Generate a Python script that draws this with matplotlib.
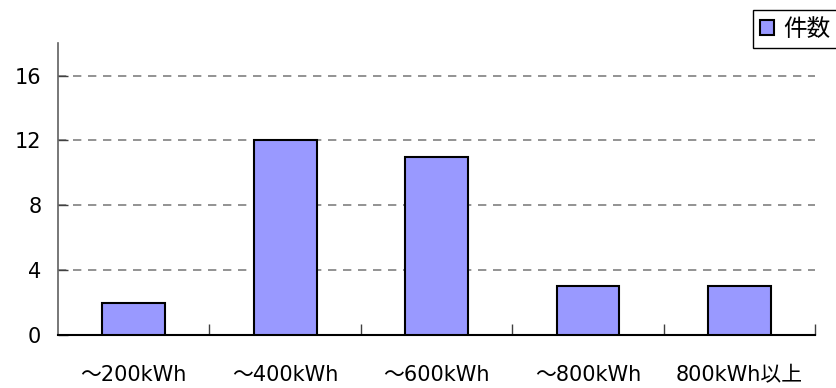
import matplotlib.pyplot as plt
from matplotlib.patches import Patch

plt.rcParams['font.family'] = ['DejaVu Sans', 'Noto Sans CJK JP']

# 使用量区分ごとの件数
categories = ['～200kWh', '～400kWh', '～600kWh', '～800kWh', '800kWh以上']
counts = [2, 12, 11, 3, 3]
yticks = [0, 4, 8, 12, 16]

fig = plt.figure(figsize=(8.36, 3.88), dpi=100)
ax = fig.add_axes([0.0694, 0.1366, 0.9056, 0.7524])

x = list(range(len(categories)))
ax.bar(x, counts, width=0.415, color='#9999FF', edgecolor='black', linewidth=1.5, zorder=3)

ax.set_xlim(-0.5, len(categories) - 0.5)
ax.set_ylim(0, 18)

# 目盛り線（破線）
for v in yticks[1:]:
    ax.axhline(v, color='#808080', linestyle=(0, (5, 4)), linewidth=1.2, zorder=1)

ax.set_yticks(yticks)
ax.tick_params(axis='y', direction='in', length=7, width=1, color='#404040',
               labelsize=15, pad=12)

# カテゴリ境界の目盛り
ax.set_xticks(x)
ax.set_xticklabels(categories)
ax.tick_params(axis='x', which='major', length=0, labelsize=15, pad=33)
for lbl in ax.get_xticklabels():
    lbl.set_verticalalignment('baseline')
ax.set_xticks([i + 0.5 for i in x], minor=True)
ax.tick_params(axis='x', which='minor', direction='in', length=8, width=1, color='#404040')

for s in ['top', 'right']:
    ax.spines[s].set_visible(False)
ax.spines['left'].set_color('#606060')
ax.spines['left'].set_linewidth(1.2)
ax.spines['bottom'].set_color('black')
ax.spines['bottom'].set_linewidth(1.5)

handle = Patch(facecolor='#9999FF', edgecolor='black', linewidth=1.5)
fig.legend([handle], ['件数'], loc='upper right', bbox_to_anchor=(1.002, 0.975),
           fontsize=17, fancybox=False, edgecolor='black', framealpha=1,
           borderpad=0.3, handlelength=0.6, handleheight=0.6, handletextpad=0.4,
           borderaxespad=0)

fig.savefig('out.png', dpi=100)
